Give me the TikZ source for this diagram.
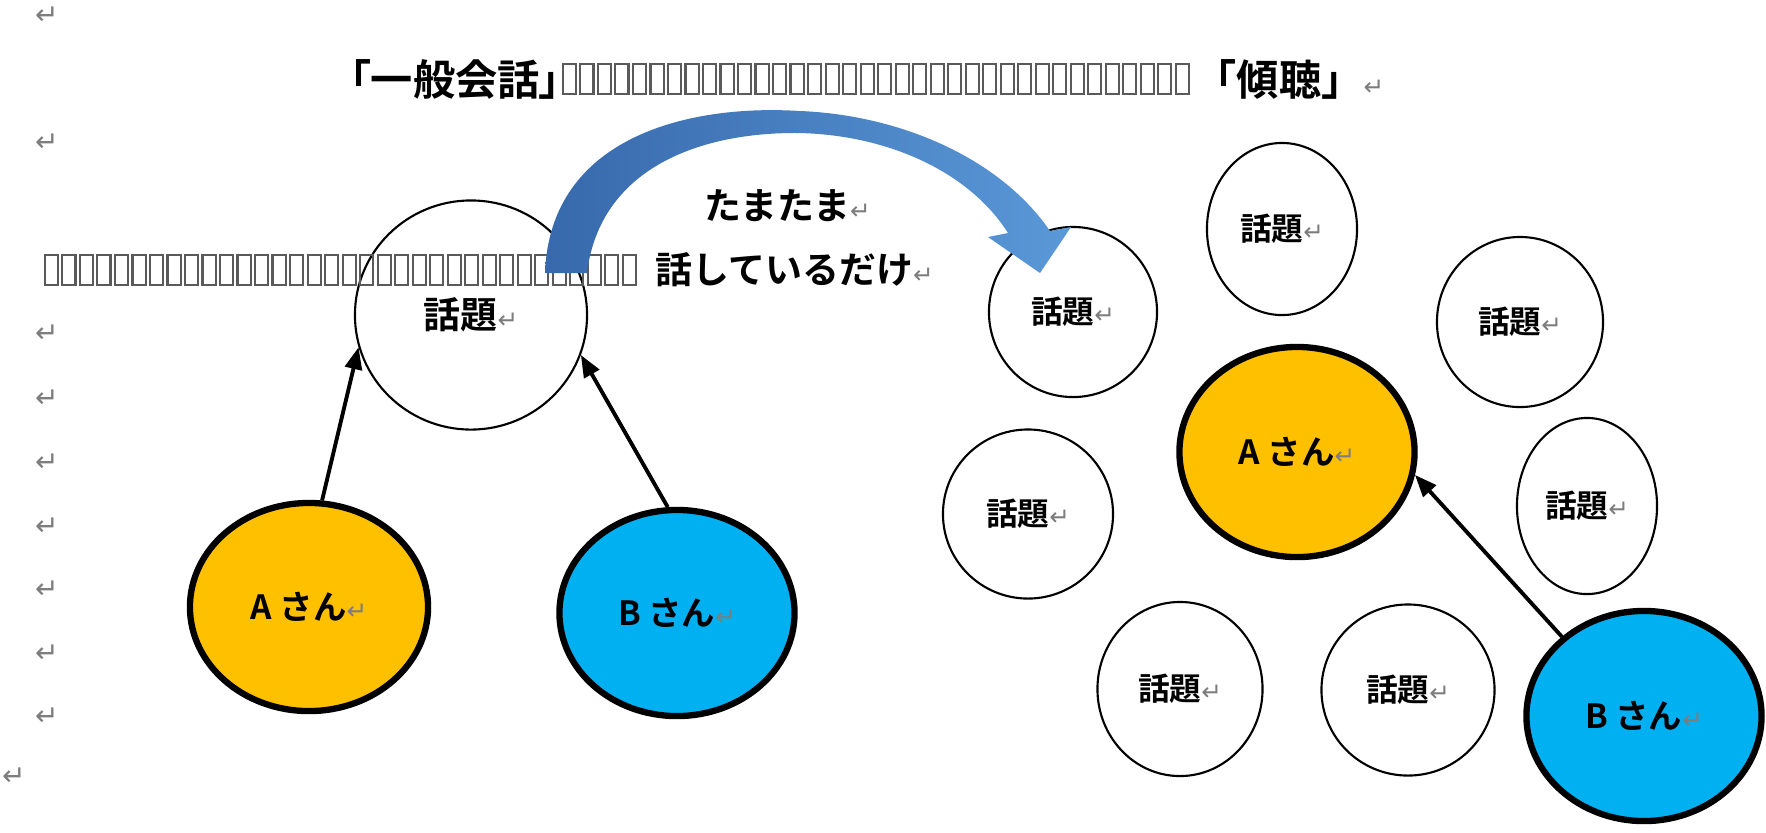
\documentclass[tikz,border=0pt]{standalone}
\usepackage{fontspec}
\usetikzlibrary{arrows.meta,shapes.geometric}
\newfontfamily\jp[BoldFont={Noto Sans CJK JP Bold}]{Noto Sans CJK JP}
\newfontfamily\jpp[BoldFont={Noto Sans CJK JP Bold},RawFeature=+palt]{Noto Sans CJK JP}
\newfontfamily\dv{DejaVu Sans}
\definecolor{tofugray}{RGB}{90,90,90}
\definecolor{retgray}{RGB}{125,125,125}
\definecolor{agold}{RGB}{255,192,0}
\definecolor{bblue}{RGB}{0,176,240}
\definecolor{arrL}{RGB}{55,105,172}
\definecolor{arrR}{RGB}{90,152,216}
\newcommand\rmark{{\dv\mdseries\fontsize{7}{7}\selectfont\color{retgray}↵}}
\newcommand\tofu{\hbox to 0.175cm{\hss{\color{tofugray}\setlength\fboxsep{0pt}\setlength\fboxrule{0.6pt}\raisebox{-0.015cm}{\fbox{\rule{0pt}{0.28cm}\hspace{0.11cm}}}}\hss}}
\newcommand\tofus[1]{\foreach \k in {1,...,#1}{\tofu}}
\tikzset{
  topic/.style={ellipse, draw, line width=0.6pt, fill=white, inner sep=0pt, font=\jp\bfseries\fontsize{9}{10}\selectfont},
  person/.style={ellipse, draw, line width=1.8pt, inner sep=0pt, font=\jp\bfseries\fontsize{9.5}{11}\selectfont},
  link/.style={line width=1.1pt, -{Triangle[length=0.22cm,width=0.17cm]}},
  retm/.style={inner sep=0pt, text=retgray, font=\dv\fontsize{8}{8}\selectfont},
  jtitle/.style={inner sep=0pt, font=\jpp\bfseries\fontsize{12}{14}\selectfont},
  jtitlew/.style={inner sep=0pt, font=\jp\bfseries\fontsize{12}{14}\selectfont},
  jbig/.style={inner sep=0pt, font=\jp\bfseries\fontsize{10.5}{12}\selectfont},
  tofurun/.style={inner sep=0pt}
}
\begin{document}
\begin{tikzpicture}[x=0.01cm,y=-0.01cm]
\useasboundingbox[fill=white] (0,0) rectangle (1766,832);

% topic circles
\node[topic, minimum width=2.32cm, minimum height=2.29cm, font=\jp\bfseries\fontsize{10.5}{12}\selectfont] (T1) at (471,315) {話題\rmark};
\node[topic, minimum width=1.68cm, minimum height=1.70cm] (T2) at (1073,312) {話題\rmark};
\node[topic, minimum width=1.50cm, minimum height=1.72cm] (T3) at (1282,229) {話題\rmark};
\node[topic, minimum width=1.66cm, minimum height=1.70cm] (T4) at (1520,322) {話題\rmark};
\node[topic, minimum width=1.70cm, minimum height=1.69cm] (T5) at (1028,514) {話題\rmark};
\node[topic, minimum width=1.40cm, minimum height=1.76cm] (T6) at (1587,506) {話題\rmark};
\node[topic, minimum width=1.65cm, minimum height=1.74cm] (T7) at (1180,689) {話題\rmark};
\node[topic, minimum width=1.73cm, minimum height=1.71cm] (T8) at (1408,690) {話題\rmark};

% persons
\node[person, fill=agold, minimum width=2.38cm, minimum height=2.08cm] (A1) at (309,607) {A さん\rmark};
\node[person, fill=bblue, minimum width=2.35cm, minimum height=2.06cm] (B1) at (677,613) {B さん\rmark};
\node[person, fill=agold, minimum width=2.35cm, minimum height=2.10cm] (A2) at (1297,452) {A さん\rmark};
\node[person, fill=bblue, minimum width=2.35cm, minimum height=2.10cm] (B2) at (1644,716) {B さん\rmark};

% connectors
\draw[link] (A1.83) -- (T1.196);
\draw[link] (B1.95) -- (T1.340);
\draw[link] (B2.136) -- (A2.349);

% text lines
\node[jtitle, anchor=west] (h1) at (349,79) {「一般会話」};
\node[tofurun, anchor=west] (h1t) at (560,79) {\tofus{36}};
\node[jtitlew, anchor=west] (h2) at (1194,79) {「傾聴」\rmark};
\node[jbig, anchor=west] (tm) at (704,206) {たまたま\rmark};
\node[tofurun, anchor=west] (l2t) at (42,270) {\tofus{34}};
\node[jbig, anchor=west] (hs) at (655,270) {話しているだけ\rmark};

% paragraph marks
\foreach \yy [count=\i] in {16,143,334,399,463,527,590,654,717}
  \node[retm] (r\i) at (47,\yy) {↵};
\node[retm] (r10) at (14,777) {↵};

% curved arrow
\shade[left color=arrL, right color=arrR]
  (545,273) .. controls (550,136) and (690,104) .. (800,111)
  .. controls (900,115) and (1000,158) .. (1050,231)
  -- (1071,227) -- (1040,273) -- (988,237) -- (1008,233)
  .. controls (970,173) and (890,135) .. (799,133)
  .. controls (700,132) and (600,168) .. (587,273) -- cycle;
\end{tikzpicture}
\end{document}
